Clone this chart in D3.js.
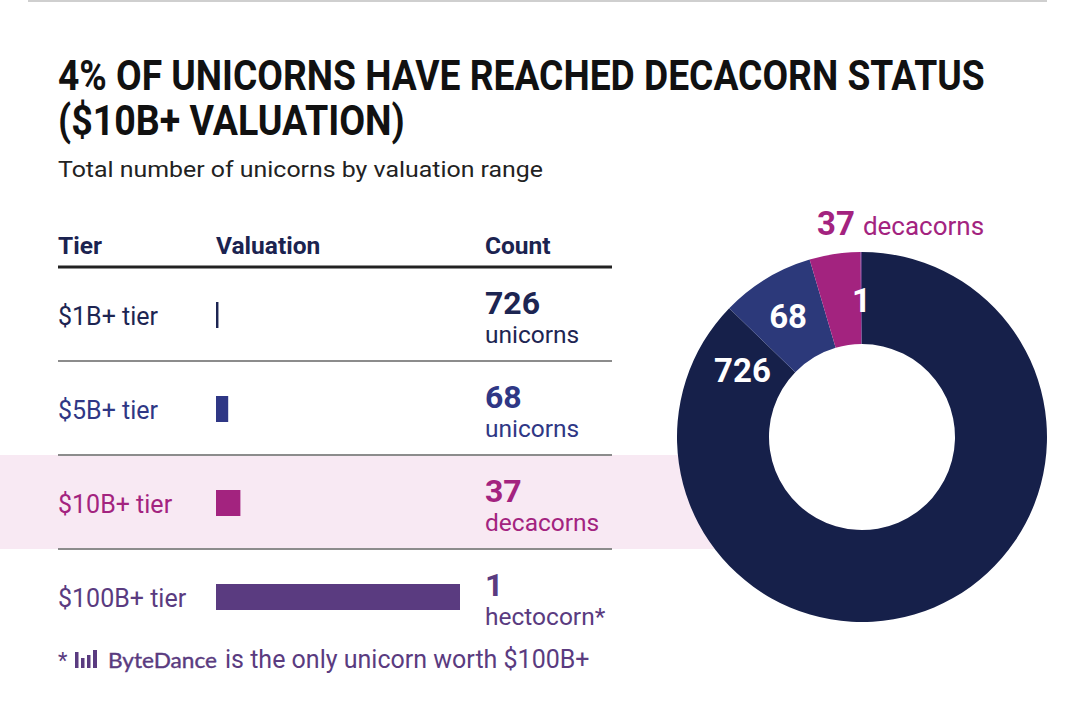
<!DOCTYPE html>
<html>
<head>
<meta charset="utf-8">
<script src="https://cdn.jsdelivr.net/npm/d3@7/dist/d3.min.js"></script>
<style>
  html, body { margin: 0; padding: 0; background: #fff; }
  svg { display: block; font-family: Roboto, "Noto Sans", sans-serif; }
</style>
</head>
<body>
<svg id="chart" width="1082" height="709"></svg>
<script>
// ---------- data ----------
const titleLines = ["4% OF UNICORNS HAVE REACHED DECACORN STATUS", "($10B+ VALUATION)"];
const subtitle = "Total number of unicorns by valuation range";
const headers = ["Tier", "Valuation", "Count"];
const tiers = ["$1B+ tier", "$5B+ tier", "$10B+ tier", "$100B+ tier"];
const valuations = [1, 5, 10, 100];           // $B threshold for each tier
const counts = [726, 68, 37, 1];
const countNouns = ["unicorns", "unicorns", "decacorns", "hectocorn*"];
const highlightTier = "$10B+ tier";
const donutCallout = ["37", "decacorns"];
const footnote = ["*", "ByteDance", "is the only unicorn worth $100B+"];

// ---------- styles ----------
const textColors = ["#1d2552", "#2f3785", "#a3237f", "#5a3b80"];
const barColors  = ["#1d2552", "#2f3785", "#a3237f", "#5a3b80"];
const sliceColors = ["#16204a", "#2c397a", "#a3237f", "#5a3b80"];

const svg = d3.select("#chart");

// top rule
svg.append("rect").attr("x", 28).attr("y", 0).attr("width", 1019).attr("height", 2).attr("fill", "#cfcfcf");

// ---------- table scales ----------
const rowBand = d3.scaleBand().domain(tiers).range([267, 643]).padding(0);
const xVal = d3.scaleLinear().domain([0, 100]).range([216, 460]);
const colX = { tier: 58, val: 216, count: 485 };

// highlight band (behind everything)
svg.append("rect")
  .attr("x", 0).attr("y", rowBand(highlightTier))
  .attr("width", 862).attr("height", rowBand.bandwidth())
  .attr("fill", "#f8e9f3");

// ---------- title (condensed via horizontal scale to target widths) ----------
const titleWidths = [927, 347];
const titleBaselines = [90, 135];
titleLines.forEach((line, i) => {
  const g = svg.append("g");
  const t = g.append("text").attr("x", 0).attr("y", 0)
    .attr("font-size", 42).attr("font-weight", 700).attr("fill", "#111")
    .text(line);
  const natural = t.node().getComputedTextLength() || titleWidths[i];
  g.attr("transform", `translate(58,${titleBaselines[i]}) scale(${titleWidths[i] / natural},1)`);
});
svg.append("text").attr("x", 58).attr("y", 177)
  .attr("font-size", 22).attr("fill", "#222")
  .attr("textLength", 485).attr("lengthAdjust", "spacingAndGlyphs")
  .text(subtitle);

// ---------- header ----------
const hx = [colX.tier, colX.val, colX.count];
svg.selectAll("text.hdr").data(headers).join("text")
  .attr("class", "hdr")
  .attr("x", (d, i) => hx[i]).attr("y", 254)
  .attr("font-size", 24.5).attr("font-weight", 700).attr("fill", "#1b2350")
  .text(d => d);
svg.append("line").attr("x1", 58).attr("x2", 612).attr("y1", 267).attr("y2", 267)
  .attr("stroke", "#222").attr("stroke-width", 3);

// row dividers
svg.selectAll("line.div").data(tiers.slice(0, tiers.length - 1)).join("line")
  .attr("class", "div")
  .attr("x1", 58).attr("x2", 612)
  .attr("y1", d => rowBand(d) + rowBand.bandwidth())
  .attr("y2", d => rowBand(d) + rowBand.bandwidth())
  .attr("stroke", "#8c8c8c").attr("stroke-width", 2);

// rows
const rows = svg.selectAll("g.row").data(tiers).join("g")
  .attr("class", "row")
  .attr("transform", d => `translate(0,${rowBand(d)})`);

rows.append("text")
  .attr("x", colX.tier).attr("y", 58)
  .attr("font-size", 25).attr("fill", (d, i) => textColors[i])
  .text(d => d);

rows.append("rect")
  .attr("x", xVal(0)).attr("y", 35)
  .attr("width", (d, i) => xVal(valuations[i]) - xVal(0))
  .attr("height", 26)
  .attr("fill", (d, i) => barColors[i]);

rows.append("text")
  .attr("x", colX.count).attr("y", 47)
  .attr("font-size", 32).attr("font-weight", 700).attr("fill", (d, i) => textColors[i])
  .text((d, i) => counts[i]);

rows.append("text")
  .attr("x", colX.count).attr("y", 76)
  .attr("font-size", 24.5).attr("fill", (d, i) => textColors[i])
  .text((d, i) => countNouns[i]);

// ---------- footnote ----------
const fn = svg.append("g").attr("transform", "translate(58,668)");
fn.append("text").attr("x", 0).attr("y", 0).attr("font-size", 22).attr("fill", "#5a3b80").text(footnote[0]);
// ByteDance logo (four bars)
const logo = fn.append("g").attr("transform", "translate(17,0)").attr("fill", "#5a3b80");
[[0, 16, 3.5], [6, 10, 3.5], [12, 13, 3.5], [18, 18, 4]].forEach(([x, h, w]) => {
  logo.append("rect").attr("x", x).attr("y", -h).attr("width", w).attr("height", h);
});
fn.append("text").attr("x", 50).attr("y", 0)
  .attr("font-family", "Lato, 'Open Sans', sans-serif").attr("font-size", 22).attr("font-weight", 400)
  .attr("fill", "#5a3b80").attr("stroke", "#5a3b80").attr("stroke-width", 0.4)
  .attr("textLength", 109).attr("lengthAdjust", "spacingAndGlyphs")
  .text(footnote[1]);
fn.append("text").attr("x", 167).attr("y", 0)
  .attr("font-size", 25).attr("fill", "#5a3b80").text(footnote[2]);

// ---------- donut ----------
const cx = 862, cy = 437, R = 185, r = 93;
const pie = d3.pie().sort(null).value(d => d);
const arcs = pie(counts);
const arc = d3.arc().innerRadius(r).outerRadius(R);
const dg = svg.append("g").attr("transform", `translate(${cx},${cy})`);
dg.append("circle").attr("r", r).attr("fill", "#fff");
dg.selectAll("path").data(arcs).join("path")
  .attr("d", arc)
  .attr("fill", (d, i) => sliceColors[i]);

// in-slice labels: 726, 68, 1 (37 gets an outside callout)
const labelR = (r + R) / 2 - 2;
function labelPos(d, i) {
  let a = (d.startAngle + d.endAngle) / 2;
  if (i === 0) a = d.endAngle - 0.26; // big slice: place near its end on the upper-left
  return [labelR * Math.sin(a), -labelR * Math.cos(a)];
}
dg.selectAll("text.sl").data(arcs.filter((d, i) => i !== 2)).join("text")
  .attr("class", "sl")
  .attr("x", d => labelPos(d, d.index)[0] - (d.index === 1 ? 3 : 0))
  .attr("y", d => labelPos(d, d.index)[1] - (d.index === 1 ? 3 : 0))
  .attr("text-anchor", "middle").attr("dominant-baseline", "central")
  .attr("font-size", 33).attr("font-weight", 700).attr("fill", "#fff")
  .text(d => d.data);

// outside callout for decacorns
const call = svg.append("text").attr("x", 817).attr("y", 235).attr("fill", "#a3237f");
call.append("tspan").attr("font-size", 33).attr("font-weight", 700).text(donutCallout[0]);
call.append("tspan").attr("dx", 8).attr("font-size", 26).text(donutCallout[1]);
</script>
</body>
</html>
